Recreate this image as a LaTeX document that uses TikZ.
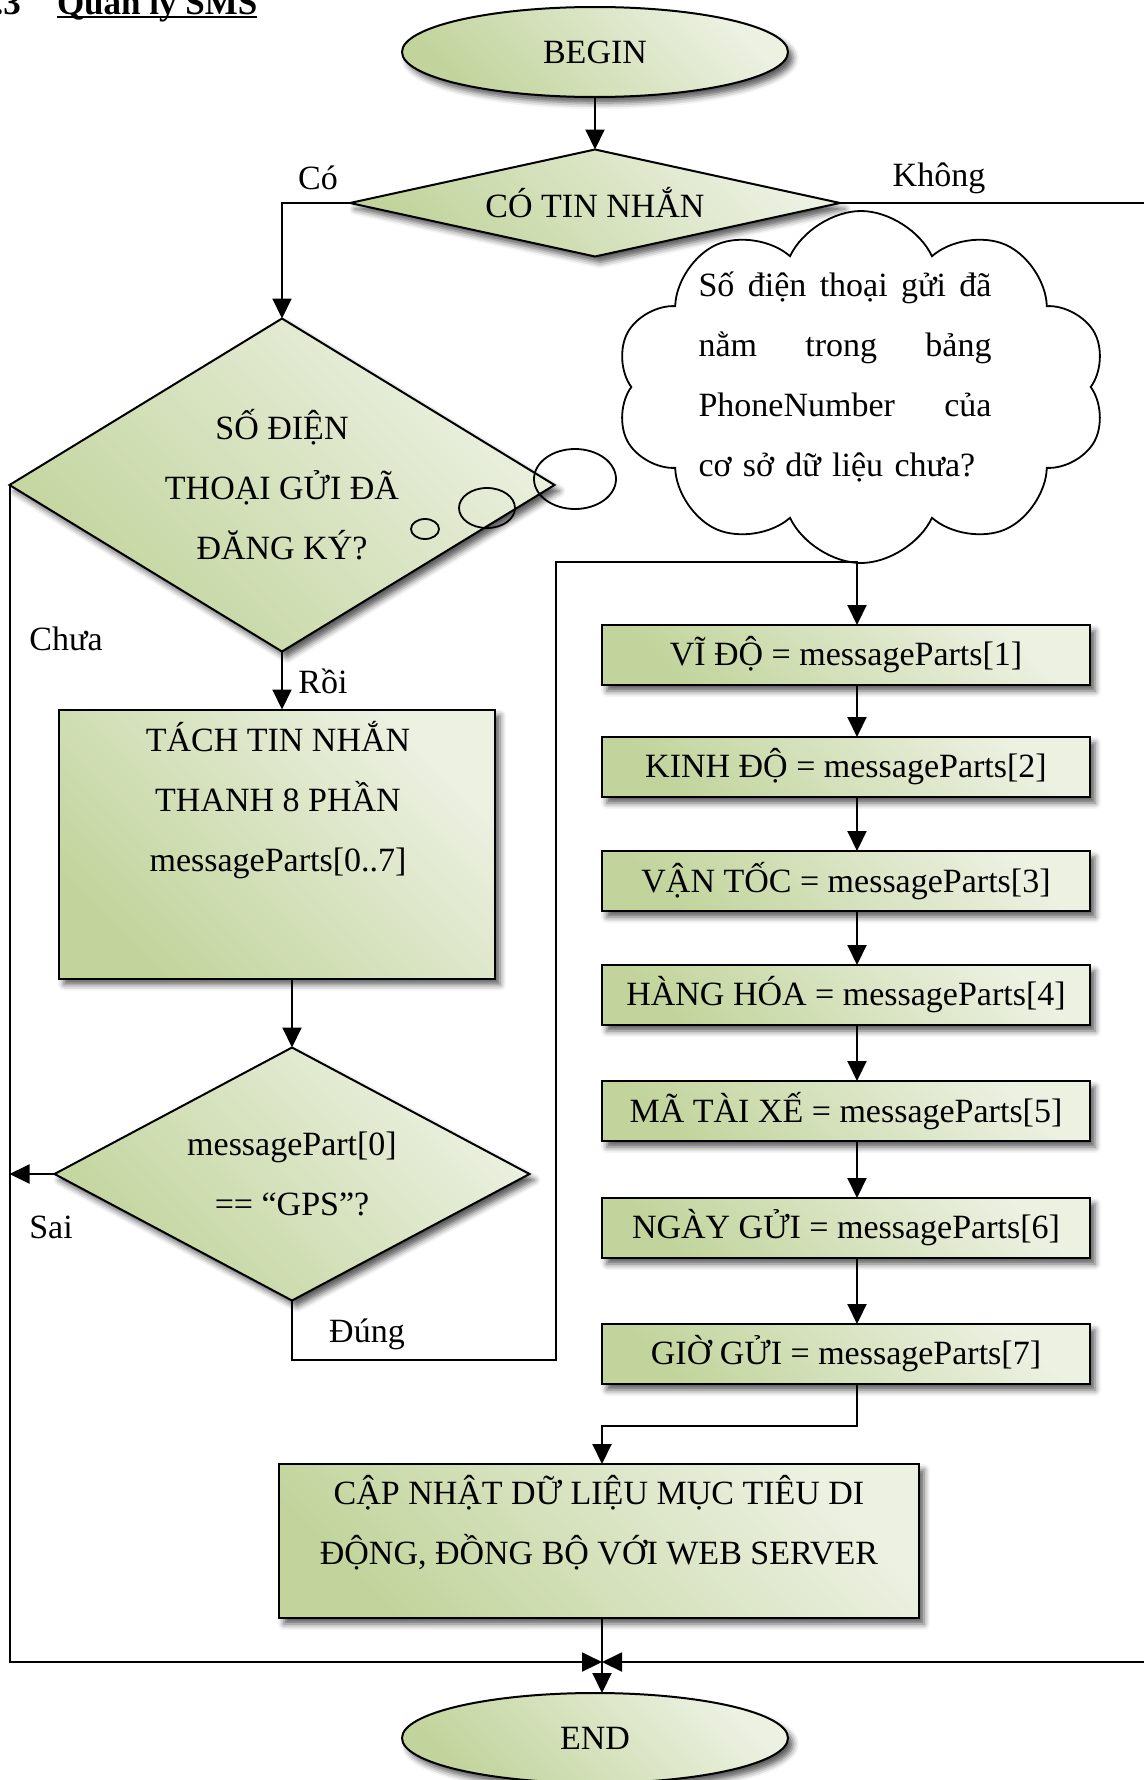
\documentclass[tikz,border=0pt]{standalone}
\usepackage{fontspec}
\setmainfont{Liberation Serif}
\usetikzlibrary{shapes.geometric,shapes.symbols,arrows.meta,shadows.blur}
\definecolor{greenlight}{RGB}{236,241,226}
\definecolor{greendark}{RGB}{194,212,156}
\begin{document}
\begin{tikzpicture}[x=1pt,y=-1pt,
  every node/.style={font=\fontsize{34}{60}\selectfont, inner sep=0pt, outer sep=0pt},
  greenshape/.style={draw=black, line width=2pt,
    top color=greenlight, bottom color=greendark, shading angle=-45,
    blur shadow={shadow xshift=5pt, shadow yshift=-6pt,
      shadow blur radius=6pt, shadow opacity=65}},
  terminal/.style={greenshape, ellipse, minimum width=386pt, minimum height=90pt},
  decision/.style={greenshape, diamond, align=center},
  process/.style={greenshape, rectangle},
  setbox/.style={process, minimum width=488pt, minimum height=60pt},
  flow/.style={line width=2pt, -{Triangle[length=20pt,width=19pt]}},
  wire/.style={line width=2pt},
  bubble/.style={draw=black, line width=1.8pt},
]
\useasboundingbox (0,0) rectangle (1143,1780);

% section heading (runs off the top edge)
\node[anchor=base west, font=\bfseries\fontsize{35}{42}\selectfont] (htitle) at (57,14) {Quản lý SMS};
\node[anchor=base east, font=\bfseries\fontsize{35}{42}\selectfont] (hnum) at (21,14) {2.3};
\draw[line width=2.5pt] ([yshift=-3pt]htitle.base west) -- ([yshift=-3pt]htitle.base east);

% start and first test
\node[terminal] (begin) at (595,52) {BEGIN};
\node[decision, minimum width=490pt, minimum height=107pt, aspect=4.5] (d1) at (595,203) {CÓ TIN NHẮN};

% registered-number test
\node[decision, minimum width=545pt, minimum height=333pt, aspect=1.6] (d2) at (282,485)
  {SỐ ĐIỆN\\THOẠI GỬI ĐÃ\\ĐĂNG KÝ?};

% thought cloud with its bubbles
\node[cloud, draw=black, line width=1.8pt, cloud puffs=10, cloud puff arc=130,
      minimum width=491pt, minimum height=352pt] (cloud) at (861,387) {};
\node[text width=293pt, align=left] (cloudtext) at (845,377)
  {Số\hfill điện\hfill thoại\hfill gửi\hfill đã\\
   nằm\hfill trong\hfill bảng\\
   PhoneNumber\hfill của\\
   cơ sở dữ liệu chưa?};
\draw[bubble] (425,529) ellipse [x radius=14pt, y radius=10pt];
\draw[bubble] (487,508) ellipse [x radius=28pt, y radius=20pt];
\draw[bubble] (575,479) ellipse [x radius=41pt, y radius=30pt];

% split message
\node[process, minimum width=436pt, minimum height=269pt] (tach) at (277,844) {};
\node[align=center] (tachtext) at (278,800) {TÁCH TIN NHẮN\\THANH 8 PHẦN\\messageParts[0..7]};

% GPS test
\node[decision, minimum width=475pt, minimum height=253pt, aspect=1.85] (d3) at (292,1174)
  {messagePart[0]\\== “GPS”?};

% field assignments
\node[setbox] (b1) at (846,655)  {VĨ ĐỘ = messageParts[1]};
\node[setbox] (b2) at (846,767)  {KINH ĐỘ = messageParts[2]};
\node[setbox] (b3) at (846,881)  {VẬN TỐC = messageParts[3]};
\node[setbox] (b4) at (846,995)  {HÀNG HÓA = messageParts[4]};
\node[setbox] (b5) at (846,1111) {MÃ TÀI XẾ = messageParts[5]};
\node[setbox] (b6) at (846,1228) {NGÀY GỬI = messageParts[6]};
\node[setbox] (b7) at (846,1354) {GIỜ GỬI = messageParts[7]};

% update and end
\node[process, minimum width=640pt, minimum height=154pt] (cap) at (599,1541) {};
\node[align=center] (captext) at (599,1523) {CẬP NHẬT DỮ LIỆU MỤC TIÊU DI\\ĐỘNG, ĐỒNG BỘ VỚI WEB SERVER};
\node[terminal] (end) at (595,1738) {END};

% routing points
\coordinate (merge) at (602,1662);
\coordinate (jtop) at (857,562);
\coordinate (jleft) at (556,1360);
\coordinate (rgt) at (1165,203);

% connectors
\draw[flow] (begin) -- (d1);
\draw[flow] (d1.west) -| (d2.north);
\draw[flow] (d1.east) -- (rgt) |- (merge);
\draw[flow] (d2.west) |- (merge);
\draw[flow] (d2.south) -- (d2.south |- tach.north);
\draw[flow] (tach.south -| d3.north) -- (d3.north);
\draw[flow] (d3.west) -- (d3.west -| d2.west);
\draw[flow] (d3.south) |- (jleft) |- (jtop) -- (b1.north -| jtop);
\draw[flow] (b1.south -| jtop) -- (b2.north -| jtop);
\draw[flow] (b2.south -| jtop) -- (b3.north -| jtop);
\draw[flow] (b3.south -| jtop) -- (b4.north -| jtop);
\draw[flow] (b4.south -| jtop) -- (b5.north -| jtop);
\draw[flow] (b5.south -| jtop) -- (b6.north -| jtop);
\draw[flow] (b6.south -| jtop) -- (b7.north -| jtop);
\draw[flow] (b7.south -| jtop) -- ++(0,42) -| (cap.north -| merge);
\draw[flow] (cap.south -| merge) -- (end.north -| merge);

% branch labels
\node (lco) at (318,178) {Có};
\node (lkhong) at (939,178) {Không};
\node (lchua) at (66,639) {Chưa};
\node (lroi) at (323,681) {Rồi};
\node (lsai) at (51,1227) {Sai};
\node (ldung) at (367,1334) {Đúng};
\end{tikzpicture}
\end{document}
